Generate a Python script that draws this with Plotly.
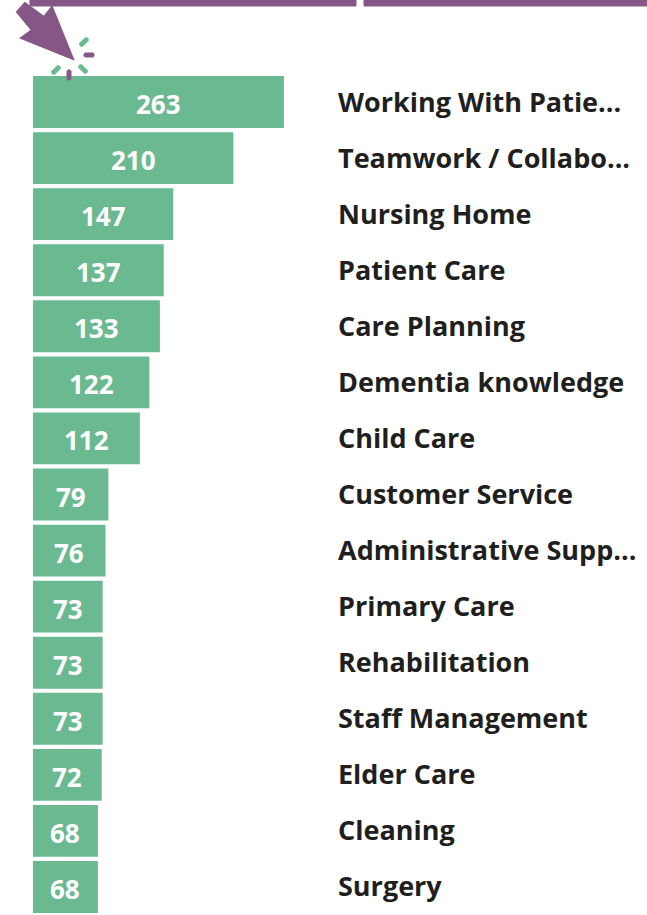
import math
import plotly.graph_objects as go

categories = ["Working With Patie...", "Teamwork / Collabo...", "Nursing Home", "Patient Care",
              "Care Planning", "Dementia knowledge", "Child Care", "Customer Service",
              "Administrative Supp...", "Primary Care", "Rehabilitation", "Staff Management",
              "Elder Care", "Cleaning", "Surgery"]
values = [263, 210, 147, 137, 133, 122, 112, 79, 76, 73, 73, 73, 72, 68, 68]

W, H = 647, 915
L, T = 33, 74
PW, PH = W - L, H - T
GREEN, PURPLE, INK = "#6BB990", "#865786", "#201F1E"
FONT = "Open Sans"


def fx(x):
    return (x - L) / PW


def fy(y):
    return 1 - (y - T) / PH


def pt(x, y):
    return f"{fx(x):.5f},{fy(y):.5f}"


def poly(points, color, edge=1):
    d = "M " + " L ".join(pt(x, y) for x, y in points) + " Z"
    return dict(type="path", xref="paper", yref="paper", path=d, fillcolor=color,
                line=dict(color=color, width=edge), layer="above")


def dash(x0, y0, x1, y1, color, r=2.5):
    n = math.hypot(x1 - x0, y1 - y0)
    ux, uy = (x1 - x0) / n, (y1 - y0) / n
    px, py = -uy * r, ux * r
    ex, ey = ux * r * 1.3, uy * r * 1.3
    d = (f"M {pt(x0 + px, y0 + py)} L {pt(x1 + px, y1 + py)} "
         f"Q {pt(x1 + ex, y1 + ey)} {pt(x1 - px, y1 - py)} "
         f"L {pt(x0 - px, y0 - py)} Q {pt(x0 - ex, y0 - ey)} {pt(x0 + px, y0 + py)} Z")
    return dict(type="path", xref="paper", yref="paper", path=d, fillcolor=color,
                line=dict(width=0), layer="above")


fig = go.Figure(go.Bar(
    x=values, y=categories, orientation="h",
    marker=dict(color=GREEN, line=dict(width=0)),
    width=0.925,
))

annotations = [dict(xref="paper", yref="y", x=fx(336), y=c, text=c, showarrow=False, xanchor="left",
                    yanchor="middle", yshift=1,
                    font=dict(family=FONT, size=27, color=INK, weight=700))
               for c in categories]
annotations += [dict(xref="x", yref="y", x=v / 2, y=c, text=str(v), showarrow=False, xanchor="center",
                     yanchor="middle", yshift=-2,
                     font=dict(family=FONT, size=26, color="white", weight=700))
                for c, v in zip(categories, values)]

shapes = [
    poly([(30, 0), (356, 0), (356, 6), (30, 6)], PURPLE),
    poly([(364, 0), (647, 0), (647, 6), (364, 6)], PURPLE),
    poly([(25, 3), (17, 12), (32, 30), (21, 38), (73, 59), (52, 7), (44, 17)], PURPLE, 2),
    dash(81, 45, 87, 39, GREEN),
    dash(85, 55, 93, 55, PURPLE),
    dash(80, 66, 86, 72, GREEN),
    dash(69, 71, 69, 79, PURPLE),
    dash(53, 73, 59, 67, GREEN),
]

fig.update_layout(
    width=W, height=H, margin=dict(l=L, r=0, t=T, b=0, pad=0),
    paper_bgcolor="white", plot_bgcolor="white", showlegend=False, bargap=0.075,
    xaxis=dict(range=[0, PW / 0.954], visible=False, fixedrange=True),
    yaxis=dict(categoryorder="array", categoryarray=categories, range=[14.5, -0.5],
               visible=False, fixedrange=True),
    annotations=annotations, shapes=shapes,
)
fig.write_html("out.html", config={"displayModeBar": False},
               post_script="document.body.style.margin='0';document.body.style.overflow='hidden';")
